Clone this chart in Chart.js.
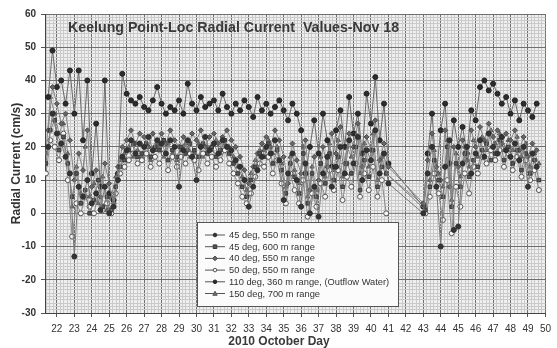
<!DOCTYPE html>
<html>
<head>
<meta charset="utf-8">
<script src="https://cdn.jsdelivr.net/npm/chart.js@4/dist/chart.umd.min.js"></script>
<style>
  html, body { margin: 0; padding: 0; background: #ffffff; }
  #wrap { width: 557px; height: 348px; position: relative; }
</style>
</head>
<body>
<div id="wrap"><canvas id="chart" width="557" height="348"></canvas></div>
<script>
// Sample times (October day, 2010); no data between day 41 and day 43
const daysA = [
  21.5, 21.75,
  22, 22.25, 22.5, 22.75,  23, 23.25, 23.5, 23.75,  24, 24.25, 24.5, 24.75,
  25, 25.25, 25.5, 25.75,  26, 26.25, 26.5, 26.75,  27, 27.25, 27.5, 27.75,
  28, 28.25, 28.5, 28.75,  29, 29.25, 29.5, 29.75,  30, 30.25, 30.5, 30.75,
  31, 31.25, 31.5, 31.75,  32, 32.25, 32.5, 32.75,  33, 33.25, 33.5, 33.75,
  34, 34.25, 34.5, 34.75,  35, 35.25, 35.5, 35.75,  36, 36.25, 36.5, 36.75,
  37, 37.25, 37.5, 37.75,  38, 38.25, 38.5, 38.75,  39, 39.25, 39.5, 39.75,
  40, 40.25, 40.5, 40.75,  41,
  43, 43.25, 43.5, 43.75,  44, 44.25, 44.5, 44.75,  45, 45.25, 45.5, 45.75,
  46, 46.25, 46.5, 46.75,  47, 47.25, 47.5, 47.75,  48, 48.25, 48.5, 48.75,
  49, 49.25, 49.5
];
// the other three sites report between those times
const daysB = [
  21.375, 21.625,
  21.875, 22.125, 22.375, 22.625,  22.875, 23.125, 23.375, 23.625,  23.875, 24.125, 24.375, 24.625,
  24.875, 25.125, 25.375, 25.625,  25.875, 26.125, 26.375, 26.625,  26.875, 27.125, 27.375, 27.625,
  27.875, 28.125, 28.375, 28.625,  28.875, 29.125, 29.375, 29.625,  29.875, 30.125, 30.375, 30.625,
  30.875, 31.125, 31.375, 31.625,  31.875, 32.125, 32.375, 32.625,  32.875, 33.125, 33.375, 33.625,
  33.875, 34.125, 34.375, 34.625,  34.875, 35.125, 35.375, 35.625,  35.875, 36.125, 36.375, 36.625,
  36.875, 37.125, 37.375, 37.625,  37.875, 38.125, 38.375, 38.625,  38.875, 39.125, 39.375, 39.625,
  39.875, 40.125, 40.375, 40.625,  40.875,
  43.125, 43.375, 43.625, 43.875,  44.125, 44.375, 44.625, 44.875,  45.125, 45.375, 45.625, 45.875,
  46.125, 46.375, 46.625, 46.875,  47.125, 47.375, 47.625, 47.875,  48.125, 48.375, 48.625, 48.875,
  49.125, 49.375, 49.625
];

// Radial current (cm/s) per site
const deg45_550 = [
  20, 30,
  24, 21, 17, 12,   -13, 8, 5, 10,   3, 6, 1, 8,   0, 2, 10, 17,
  19, 22, 18, 21,   20, 23, 19, 22,   21, 18, 22, 20,   8, 19, 22, 17,
  10, 20, 23, 19,   21, 18, 22, 20,   19, 16, 14, 10,   2, 8, 13, 17,
  20, 18, 22, 16,   4, 12, 18, 10,   2, 15, 0, 8,   -1, 12, 17, 8,
  14, 20, 12, 22,   15, 23, 10, 19,   16, 25, 12, 18,   9,
  0, 12, 20, 8,   -10, 14, 22, -5,   -4, 15, 20, 12,   18, 22, 17, 24,
  20, 18, 23, 19,   17, 21, 16, 20,   8, 18, 14
];
const deg45_600 = [
  15, 25,
  28, 19, 23, 15,   5, 12, 3, 7,   0, 4, 10, 2,   5, 1, 8, 14,
  16, 19, 21, 17,   18, 21, 17, 20,   19, 22, 16, 19,   17, 20, 18, 21,
  19, 17, 21, 18,   20, 17, 19, 22,   18, 15, 12, 8,   5, 10, 14, 18,
  17, 21, 15, 19,   13, 6, 15, 11,   6, 18, 3, 12,   5, 15, 9, 18,
  10, 17, 8, 15,   12, 20, 7, 16,   11, 19, 8, 14,   12,
  1, 8, 16, 10,   5, 20, 2, 15,   8, 18, 11, 16,   14, 19, 21, 16,
  18, 22, 16, 20,   15, 19, 13, 18,   12, 16, 10
];
const deg40_550 = [
  25, 38,
  33, 27, 30, 22,   10, 18, 13, 25,   8, 13, 5, 15,   9, 3, 14, 20,
  22, 25, 21, 24,   23, 20, 24, 21,   24, 21, 25, 22,   20, 23, 19, 24,
  22, 25, 20, 23,   24, 21, 23, 25,   22, 20, 17, 13,   9, 14, 18, 21,
  23, 20, 25, 22,   17, 9, 21, 16,   12, 22, 7, 17,   10, 20, 14, 24,
  18, 26, 15, 24,   20, 27, 14, 23,   19, 28, 16, 21,   14,
  3, 16, 24, 14,   10, 25, 8, 20,   14, 22, 16, 25,   20, 26, 22, 27,
  23, 25, 21, 24,   22, 25, 19, 23,   17, 21, 19
];
const deg50_550 = [
  12, 22,
  20, 16, 24, 10,   -7, 3, 0, 5,   2, 0, 6, 1,   3, 0, 6, 12,
  14, 16, 18, 15,   16, 18, 14, 17,   15, 18, 13, 17,   14, 17, 15, 18,
  16, 13, 18, 15,   17, 14, 16, 19,   15, 12, 9, 5,   3, 6, 11, 15,
  14, 17, 12, 16,   9, 3, 12, 7,   3, 10, -1, 6,   2, 9, 5, 13,
  7, 13, 4, 11,   8, 15, 5, 12,   7, 14, 5, 10,   0,
  0, 5, 12, 6,   -2, 10, -6, 8,   2, 12, 6, 14,   12, 17, 15, 19,
  16, 19, 14, 18,   13, 17, 11, 16,   10, 13, 7
];
const deg110_360 = [
  35, 49,
  38, 40, 33, 43,   30, 43, 22, 40,   12, 27, 8, 40,   6, 4, 12, 42,
  36, 34, 33, 35,   32, 31, 34, 38,   33, 30, 32, 31,   34, 30, 39, 33,
  31, 35, 32, 33,   34, 31, 36, 32,   30, 33, 31, 34,   32, 29, 35, 31,
  33, 30, 32, 34,   31, 28, 33, 30,   25, 12, 20, 28,   18, 30, 22, 14,
  25, 31, 20, 35,   24, 30, 18, 36,   27, 41, 22, 33,   15,
  2, 18, 30, 12,   25, 33, 15, 28,   20, 26, 18, 31,   28, 38, 40, 37,
  39, 36, 33, 35,   30, 34, 28, 33,   31, 29, 33
];
const deg150_700 = [
  18, 35,
  30, 24, 27, 18,   2, 14, 6, 20,   5, 9, 3, 11,   1, 5, 11, 16,
  18, 20, 17, 19,   17, 20, 16, 19,   20, 17, 21, 18,   16, 19, 21, 17,
  18, 21, 17, 20,   19, 22, 18, 21,   20, 17, 14, 11,   7, 12, 16, 19,
  19, 22, 18, 20,   15, 8, 17, 13,   9, 20, 5, 14,   7, 17, 11, 21,
  13, 22, 11, 20,   17, 24, 12, 21,   14, 24, 10, 17,   12,
  2, 10, 19, 12,   8, 22, 4, 18,   11, 20, 14, 22,   17, 23, 19, 25,
  21, 24, 19, 22,   19, 23, 17, 21,   14, 18, 15
];

const seriesLabels = [
  '45 deg, 550 m range',
  '45 deg, 600 m range',
  '40 deg, 550 m range',
  '50 deg, 550 m range',
  '110 deg, 360 m range, (Outflow Water)',
  '150 deg, 700 m range'
];
const seriesValues = [deg45_550, deg45_600, deg40_550, deg50_550, deg110_360, deg150_700];
const seriesTimes = [daysA, daysB, daysA, daysB, daysA, daysB];

const chartHeading = 'Keelung Point-Loc Radial Current  Values-Nov 18';
const xTitle = '2010 October Day';
const yTitle = 'Radial Current (cm/s)';

const FONT = '"Liberation Sans", Arial, Helvetica, sans-serif';

const looks = [
  { line: '#7a7a7a', fill: '#333333', edge: '#2e2e2e', shape: 'circle' },
  { line: '#808080', fill: '#555555', edge: '#3a3a3a', shape: 'rect' },
  { line: '#858585', fill: '#666666', edge: '#4a4a4a', shape: 'rectRot' },
  { line: '#888888', fill: '#f4f4f4', edge: '#555555', shape: 'circle' },
  { line: '#6a6a6a', fill: '#2c2c2c', edge: '#222222', shape: 'circle' },
  { line: '#8a8a8a', fill: '#707070', edge: '#555555', shape: 'triangle' }
];

const datasets = seriesValues.map((vals, i) => ({
  label: seriesLabels[i],
  data: seriesTimes[i].map((d, k) => ({ x: d, y: vals[k] })),
  borderColor: looks[i].line,
  backgroundColor: looks[i].fill,
  pointBackgroundColor: looks[i].fill,
  pointBorderColor: looks[i].edge,
  pointStyle: looks[i].shape,
  pointRadius: 2.5,
  pointBorderWidth: 1,
  borderWidth: 1,
  tension: 0,
  fill: false
}));

const isWhole = v => Math.abs(v - Math.round(v)) < 1e-6;
const isTen = v => isWhole(v / 10);

// light plot background behind the grid
const plotBackground = {
  id: 'plotBackground',
  beforeDraw(chart) {
    const { ctx, chartArea: a } = chart;
    ctx.save();
    ctx.fillStyle = '#efefef';
    ctx.fillRect(a.left, a.top, a.right - a.left, a.bottom - a.top);
    ctx.restore();
  }
};

function drawMarker(ctx, shape, x, y, r) {
  ctx.beginPath();
  if (shape === 'rect') {
    ctx.rect(x - r, y - r, 2 * r, 2 * r);
  } else if (shape === 'rectRot') {
    ctx.moveTo(x, y - r * 1.3); ctx.lineTo(x + r * 1.3, y);
    ctx.lineTo(x, y + r * 1.3); ctx.lineTo(x - r * 1.3, y); ctx.closePath();
  } else if (shape === 'triangle') {
    ctx.moveTo(x, y - r * 1.3); ctx.lineTo(x + r * 1.2, y + r);
    ctx.lineTo(x - r * 1.2, y + r); ctx.closePath();
  } else {
    ctx.arc(x, y, r, 0, Math.PI * 2);
  }
  ctx.fill();
  ctx.stroke();
}

// heading inside the plot, x-axis caption and the boxed legend
const annotations = {
  id: 'annotations',
  afterDraw(chart) {
    const { ctx, chartArea: a } = chart;
    ctx.save();
    ctx.fillStyle = '#3a3a3a';
    ctx.textBaseline = 'middle';
    ctx.textAlign = 'left';
    ctx.font = 'bold 14.2px ' + FONT;
    ctx.fillText(chartHeading, a.left + 23, a.top + 14);

    ctx.textAlign = 'center';
    ctx.font = 'bold 12px ' + FONT;
    ctx.fillText(xTitle, 279, 342);

    // legend box
    const bx = a.left + 152, by = a.top + 208, bw = 201, bh = 84;
    ctx.fillStyle = '#fbfbfb';
    ctx.fillRect(bx, by, bw, bh);
    ctx.strokeStyle = '#555555';
    ctx.lineWidth = 1;
    ctx.strokeRect(bx + 0.5, by + 0.5, bw, bh);

    ctx.font = '9.3px ' + FONT;
    ctx.textAlign = 'left';
    chart.data.datasets.forEach((ds, i) => {
      const y = by + 13 + i * 11.7;
      ctx.strokeStyle = '#555555';
      ctx.lineWidth = 1;
      ctx.beginPath();
      ctx.moveTo(bx + 8, y); ctx.lineTo(bx + 28, y);
      ctx.stroke();
      ctx.fillStyle = looks[i].fill;
      ctx.strokeStyle = looks[i].edge;
      drawMarker(ctx, looks[i].shape, bx + 18, y, 1.8);
      ctx.fillStyle = '#333333';
      ctx.fillText(ds.label, bx + 32, y + 0.5);
    });
    ctx.restore();
  }
};

new Chart(document.getElementById('chart'), {
  type: 'line',
  data: { datasets },
  plugins: [plotBackground, annotations],
  options: {
    responsive: false,
    animation: false,
    devicePixelRatio: 1,
    layout: { padding: { left: 0, right: 5, top: 14, bottom: 0 } },
    plugins: { legend: { display: false }, tooltip: { enabled: false }, title: { display: false } },
    scales: {
      x: {
        type: 'linear', position: 'bottom', min: 21.32, max: 50,
        ticks: {
          stepSize: 0.2, includeBounds: false, autoSkip: false, maxRotation: 0,
          padding: 6, color: '#333333', font: { family: FONT, size: 10 },
          callback: v => (isWhole(v) ? String(Math.round(v)) : '')
        },
        grid: {
          color: c => (isWhole(c.tick.value) ? '#6f6f6f' : '#cacaca'),
          tickColor: c => (isWhole(c.tick.value) ? '#555555' : 'rgba(0,0,0,0)'),
          lineWidth: 1, drawTicks: true, tickLength: 4
        },
        border: { display: true, color: '#444444', width: 1 },
        afterFit(s) { s.height = 35; }
      },
      y: {
        type: 'linear', position: 'left', min: -30, max: 60,
        ticks: {
          stepSize: 1, autoSkip: false,
          padding: 5, color: '#333333', font: { family: FONT, size: 10, weight: 'bold' },
          callback: v => (isTen(v) ? String(Math.round(v)) : '')
        },
        grid: {
          color: c => (isTen(c.tick.value) ? '#6f6f6f' : '#cacaca'),
          tickColor: c => (isTen(c.tick.value) ? '#555555' : 'rgba(0,0,0,0)'),
          lineWidth: 1, drawTicks: true, tickLength: 4
        },
        border: { display: true, color: '#444444', width: 1 },
        title: {
          display: true, text: yTitle, color: '#333333',
          font: { family: FONT, size: 12, weight: 'bold' },
          padding: { top: 9, bottom: 0 }
        },
        afterFit(s) { s.width = 45; }
      }
    }
  }
});
</script>
</body>
</html>
